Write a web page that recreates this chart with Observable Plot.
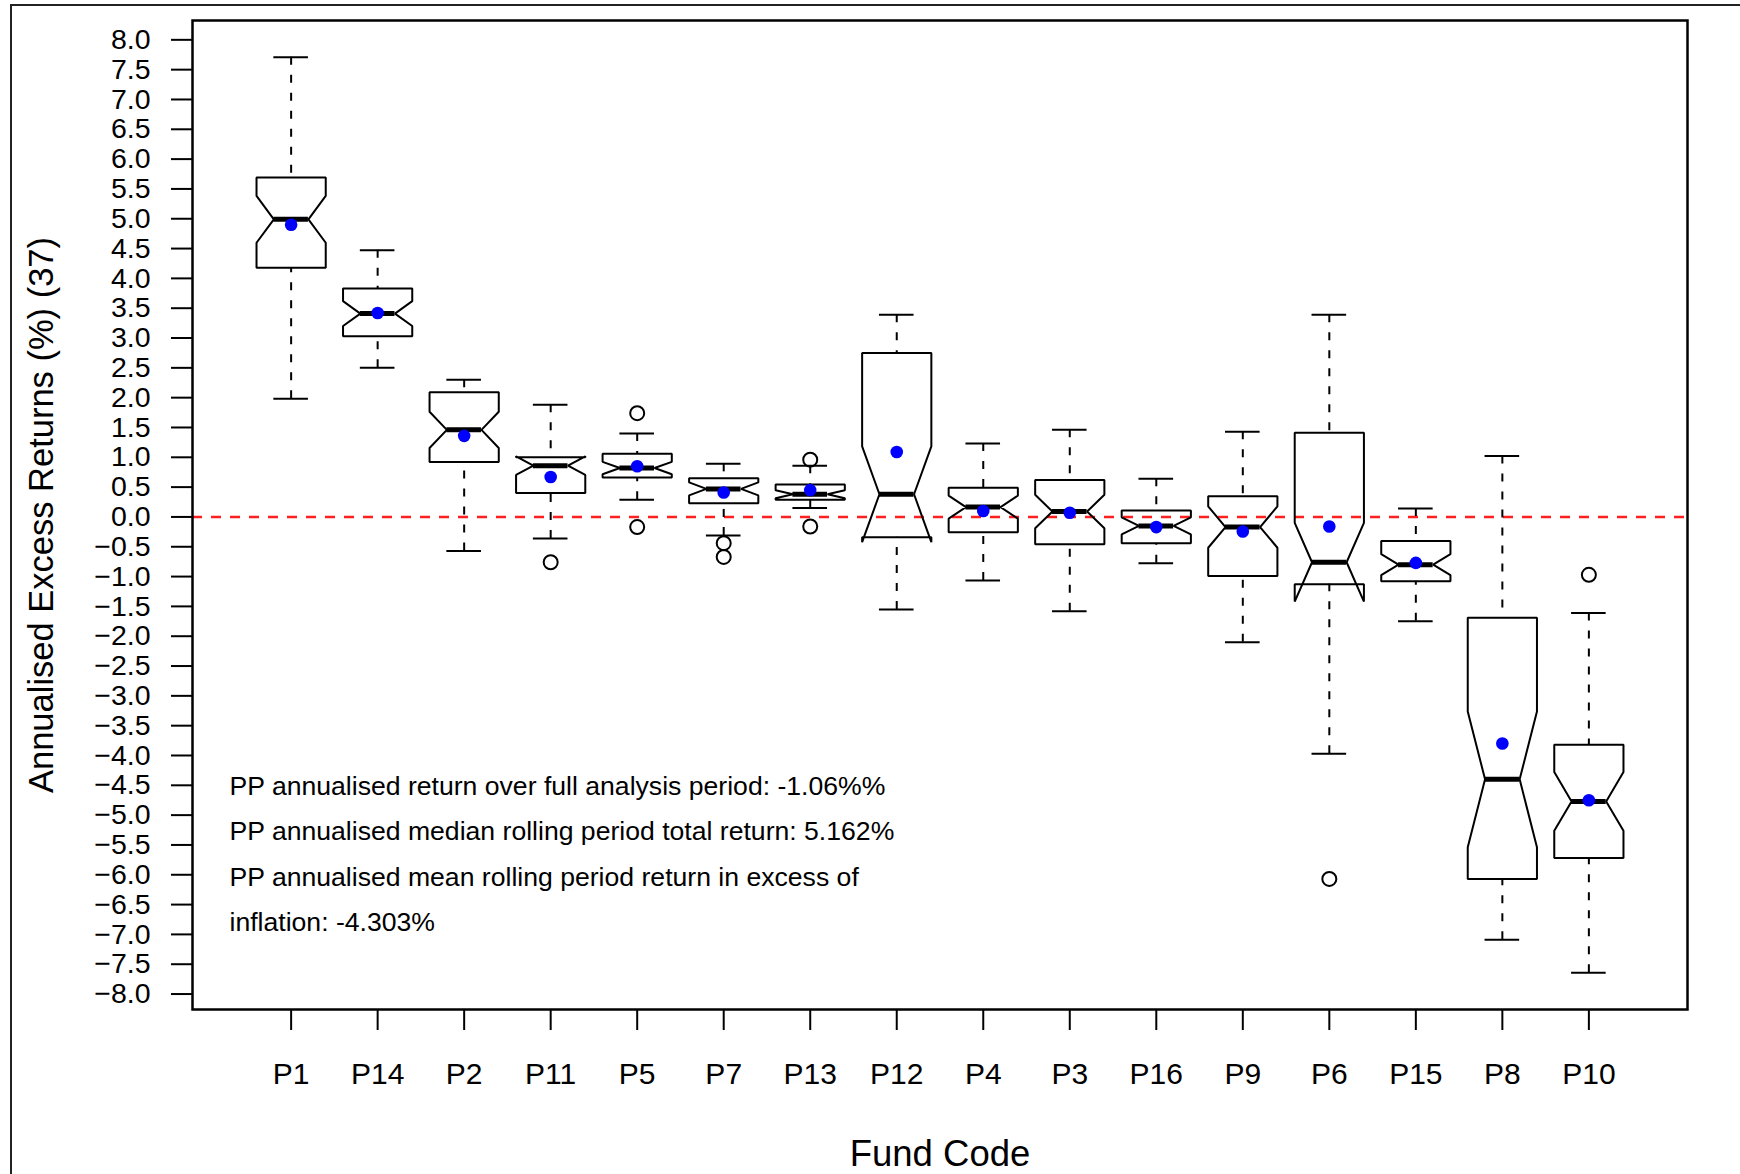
<!DOCTYPE html>
<html>
<head>
<meta charset="utf-8">
<script src="https://cdn.jsdelivr.net/npm/d3@7"></script>
<script src="https://cdn.jsdelivr.net/npm/@observablehq/plot@0.6"></script>
<style>
  html, body { margin: 0; padding: 0; background: #fff; }
  #chart { position: relative; width: 1740px; height: 1174px; overflow: hidden; background: #fff; }
  #chart svg { position: absolute; left: 0; top: 0; }
  #border { position: absolute; left: 10px; top: 4px; width: 1800px; height: 1300px;
            border-top: 2px solid #222; border-left: 2px solid #222; pointer-events: none; }
</style>
</head>
<body>
<div id="chart"><div id="border"></div></div>
<script>
// Rolling-period annualised excess returns per fund (%), ordered by median
const funds = ["P1","P14","P2","P11","P5","P7","P13","P12","P4","P3","P16","P9","P6","P15","P8","P10"];
const whiskerHigh   = [7.71, 4.47, 2.30, 1.88, 1.40, 0.89, 0.86, 3.39, 1.23, 1.46, 0.64, 1.43, 3.39, 0.14, 1.02, -1.61];
const upperQuartile = [5.69, 3.83, 2.09, 1.00, 1.06, 0.65, 0.545, 2.75, 0.49, 0.62, 0.11, 0.345, 1.41, -0.405, -1.69, -3.82];
const medians       = [4.99, 3.41, 1.46, 0.86, 0.82, 0.47, 0.38, 0.38, 0.165, 0.09, -0.15, -0.17, -0.76, -0.80, -4.40, -4.77];
const lowerQuartile = [4.18, 3.03, 0.92, 0.40, 0.66, 0.23, 0.29, -0.34, -0.255, -0.46, -0.44, -0.99, -1.13, -1.08, -6.07, -5.72];
const whiskerLow    = [1.98, 2.50, -0.57, -0.36, 0.29, -0.31, 0.15, -1.55, -1.065, -1.58, -0.775, -2.10, -3.97, -1.75, -7.09, -7.645];
const means         = [4.90, 3.42, 1.36, 0.67, 0.85, 0.41, 0.45, 1.09, 0.10, 0.07, -0.17, -0.245, -0.16, -0.77, -3.80, -4.75];

// Points beyond the whiskers
const outlierFund  = ["P11", "P5", "P5", "P7", "P7", "P13", "P13", "P6", "P10"];
const outlierValue = [-0.76, 1.74, -0.17, -0.44, -0.67, 0.96, -0.16, -6.07, -0.97];

// Number of rolling periods per fund
const nPeriods = 37;

const yTitle = "Annualised Excess Returns (%) (37)";
const xTitle = "Fund Code";
const notes = [
  "PP annualised return over full analysis period: -1.06%%",
  "PP annualised median rolling period total return: 5.162%",
  "PP annualised mean rolling period return in excess of",
  "inflation: -4.303%"
];

// Per-fund rows; notch = median ± 1.58·IQR/√n
const rows = funds.map((fund, i) => {
  const q1 = lowerQuartile[i], q3 = upperQuartile[i], med = medians[i];
  const notch = 1.58 * (q3 - q1) / Math.sqrt(nPeriods);
  return {fund, pos: i + 1, hi: whiskerHigh[i], q3, med, q1, lo: whiskerLow[i],
          mean: means[i], cLo: med - notch, cHi: med + notch};
});

// Notched box outline, vertex order as in R's bxp()
const halfWidth = 0.4, notchFrac = 0.5;
const outline = rows.flatMap(r => [
  [-1, r.q1], [1, r.q1], [1, r.cLo], [notchFrac, r.med], [1, r.cHi],
  [1, r.q3], [-1, r.q3], [-1, r.cHi], [-notchFrac, r.med], [-1, r.cLo]
].map(([k, y]) => ({fund: r.fund, x: r.pos + k * halfWidth, y})));

const outliers = outlierFund.map((f, i) => ({pos: funds.indexOf(f) + 1, value: outlierValue[i]}));

// Axis ranges padded by 4% like base R graphics
const yMin = d3.min([...whiskerLow, ...outlierValue]);
const yMax = d3.max([...whiskerHigh, ...outlierValue]);
const yPad = 0.04 * (yMax - yMin);
const xPad = 0.04 * funds.length;
const staple = halfWidth * 0.5;

const chart = Plot.plot({
  width: 1740,
  height: 1174,
  marginLeft: 192,
  marginRight: 53,
  marginTop: 20,
  marginBottom: 165,
  style: {fontFamily: "'Liberation Sans', Arial, Helvetica, sans-serif", fontSize: "28px", color: "#000", background: "#fff", overflow: "visible"},
  x: {type: "linear", domain: [0.5 - xPad, funds.length + 0.5 + xPad]},
  y: {domain: [yMin - yPad, yMax + yPad]},
  marks: [
    // zero reference line
    Plot.ruleY([0], {stroke: "#ff1f1f", strokeWidth: 2.5, strokeDasharray: "10,9"}),
    // whiskers
    Plot.ruleX(rows, {x: "pos", y1: "hi", y2: "q3", stroke: "#000", strokeWidth: 2, strokeDasharray: "8,10"}),
    Plot.ruleX(rows, {x: "pos", y1: "lo", y2: "q1", stroke: "#000", strokeWidth: 2, strokeDasharray: "8,10"}),
    // staples
    Plot.ruleY(rows, {y: "hi", x1: d => d.pos - staple, x2: d => d.pos + staple, stroke: "#000", strokeWidth: 2}),
    Plot.ruleY(rows, {y: "lo", x1: d => d.pos - staple, x2: d => d.pos + staple, stroke: "#000", strokeWidth: 2}),
    // notched boxes
    Plot.line(outline, {x: "x", y: "y", z: "fund", curve: "linear-closed", stroke: "#000", strokeWidth: 2, strokeLinejoin: "miter"}),
    // medians
    Plot.ruleY(rows, {y: "med", x1: d => d.pos - halfWidth * notchFrac, x2: d => d.pos + halfWidth * notchFrac, stroke: "#000", strokeWidth: 5}),
    // outliers
    Plot.dot(outliers, {x: "pos", y: "value", r: 7, stroke: "#000", strokeWidth: 2, fill: "none"}),
    // means
    Plot.dot(rows, {x: "pos", y: "mean", r: 6.3, fill: "#0000ff", stroke: "none"}),
    Plot.frame({stroke: "#000", strokeWidth: 2.5}),
    Plot.axisY(d3.range(-16, 17).map(k => k / 2), {
      tickSize: 21, tickPadding: 21, strokeWidth: 2, fontSize: 28.5, label: null,
      tickFormat: d => d.toFixed(1).replace("-", "\u2212")
    }),
    Plot.axisX(d3.range(1, funds.length + 1), {
      tickSize: 21, tickPadding: 32, strokeWidth: 2, fontSize: 30, label: null,
      tickFormat: i => funds[i - 1]
    }),
    Plot.text([yTitle], {text: d => d, frameAnchor: "left", rotate: -90, dx: -151, fontSize: 34.5, lineAnchor: "middle", textAnchor: "middle"}),
    Plot.text([xTitle], {text: d => d, frameAnchor: "bottom", dy: 145, fontSize: 36.5, lineAnchor: "middle", textAnchor: "middle"}),
    Plot.text([notes.join("\n")], {
      text: d => d, frameAnchor: "top-left", dx: 37, dy: 742, fontSize: 26.6,
      lineHeight: 45.5 / 26.6, textAnchor: "start", lineAnchor: "top"
    })
  ]
});

document.getElementById("chart").prepend(chart);
</script>
</body>
</html>
